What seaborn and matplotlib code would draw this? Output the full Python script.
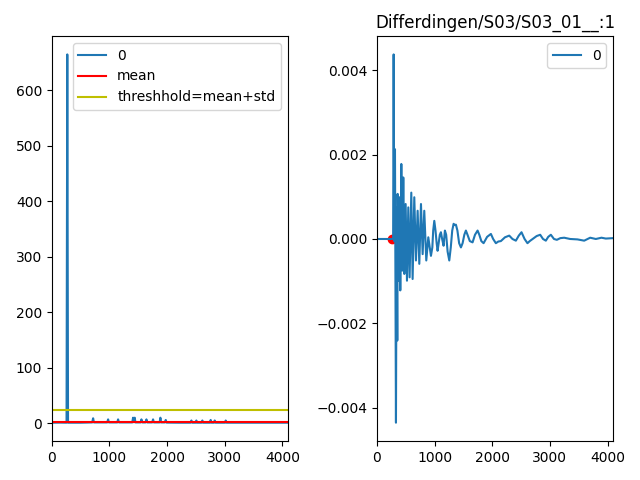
import matplotlib
matplotlib.use("Agg")
import matplotlib.pyplot as plt
import seaborn as sns

# Left panel: detection function
left_x = [0, 150, 255, 268, 281, 500, 700, 716, 730, 960, 976, 990, 1135, 1149, 1165,
          1395, 1409, 1420, 1425, 1438, 1450, 1540, 1554, 1570, 1625, 1641, 1655,
          1740, 1756, 1770, 1870, 1883, 1895, 1960, 1976, 1990, 2200, 2405, 2421,
          2435, 2495, 2507, 2520, 2598, 2611, 2625, 2742, 2755, 2768, 2812, 2825,
          2840, 3003, 3016, 3030, 3500, 4095]
left_y = [1.0, 1.2, 1.0, 665.0, 1.0, 1.0, 1.5, 9.0, 1.5, 1.5, 7.0, 1.5, 1.5, 7.0, 1.5,
          1.5, 10.0, 2.0, 2.0, 10.0, 1.5, 1.5, 7.0, 1.5, 1.5, 7.0, 1.5,
          1.5, 7.0, 1.5, 1.5, 10.0, 1.5, 1.5, 6.0, 1.2, 1.0, 1.0, 5.0,
          1.0, 1.0, 5.0, 1.0, 1.0, 5.0, 1.0, 1.0, 6.0, 1.0, 1.0, 5.0,
          1.0, 1.0, 5.0, 1.0, 1.0, 1.0]
mean_value = 1.8
threshold_value = 23.9

# Right panel: waveform
right_x = [0, 280, 289, 300, 312, 329, 341, 352, 358, 376,
           393, 404, 422, 439, 456, 474, 497, 520, 543, 566,
           595, 618, 647, 676, 705, 734, 763, 792, 820, 855,
           890, 915, 936, 960, 975, 994, 1015, 1035, 1051, 1070,
           1090, 1109, 1130, 1155, 1178, 1200, 1225, 1254, 1280, 1305,
           1329, 1350, 1369, 1395, 1425, 1456, 1485, 1515, 1542, 1570,
           1610, 1658, 1700, 1745, 1775, 1810, 1849, 1910, 1976, 2015,
           2062, 2105, 2149, 2220, 2294, 2350, 2409, 2460, 2507, 2560,
           2610, 2650, 2700, 2770, 2831, 2880, 2929, 2970, 3016, 3070,
           3120, 3180, 3247, 3350, 3478, 3594, 3698, 3796, 3894, 3969,
           4095]
right_y = [0, 0, 0.00438, -0.00005, 0.00213, -0.00436, 0.00075, -0.00241, 0.00107, -0.00099,
           0.00099, -0.00122, 0.00178, -0.00075, 0.00146, -0.00083, 0.00083, -0.00099, 0.00075, -0.00091,
           0.0011, -0.00095, 0.00099, -0.00051, 0.00067, -0.00059, 0.00083, -0.00036, 0.00067, -0.00051,
           0.00004, -0.0002, -0.0004, -0.0002, 0.0002, 0.00043, 0.0002, -0.0001, -0.00028, -0.0001,
           0.0001, 0.00016, 0.0, -0.00016, 0.0002, 0.0001, -0.0003, -0.00051, -0.0002, 0.0002,
           0.00036, 0.00033, 0.00034, 0.0002, -0.0001, -0.0002, -0.0001, 0.0001, 0.0002, 0.0001,
           -0.00005, -0.00008, 0.0001, 0.0002, 0.0001, -0.00005, -0.0001, 0.00005, 0.00012, 0.0,
           -0.0001, -0.00006, -0.00005, 0.00004, 0.00008, 0.0, -0.00004, 0.00008, 0.00016, 0.0,
           -0.0001, -0.00005, 0.0, 0.00007, 0.0001, 0.0, -0.00004, 0.00005, 0.0001, 0.0,
           -0.00002, 0.00002, 0.00003, 0.0, -0.00001, -0.00004, 0.00003, 0.0, 0.00003, 0.00001,
           0.00002]
onset_x = [260]
onset_y = [0.0]
title = "Differdingen/S03/S03_01__:1"

fig, (ax1, ax2) = plt.subplots(1, 2, figsize=(6.4, 4.8), dpi=100)

sns.lineplot(x=left_x, y=left_y, ax=ax1, label="0", color="C0")
ax1.axhline(mean_value, color="r", label="mean")
ax1.axhline(threshold_value, color="y", label="threshhold=mean+std")
ax1.set_xlim(0, 4096)
ax1.legend(loc="upper right")

ax2.scatter(onset_x, onset_y, color="red", s=36)
sns.lineplot(x=right_x, y=right_y, ax=ax2, label="0", color="C0")
ax2.set_xlim(0, 4096)
ax2.set_title(title)
ax2.legend(loc="upper right")

fig.subplots_adjust(left=0.081, right=0.958, bottom=0.081, top=0.925, wspace=0.377)
fig.savefig("out.png", dpi=100)
